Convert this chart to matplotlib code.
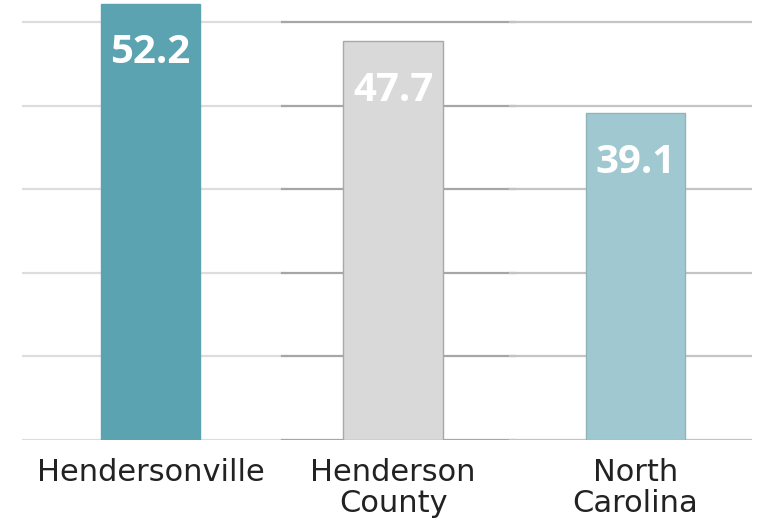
import matplotlib
matplotlib.use("Agg")
import matplotlib.pyplot as plt

categories = ["Hendersonville", "Henderson\nCounty", "North\nCarolina"]
values = [52.2, 47.7, 39.1]
value_labels = ["52.2", "47.7", "39.1"]
gridvals = [0, 10, 20, 30, 40, 50]

colors = ["#5ba3b0", "#d9d9d9", "#9fc8d0"]
edges = ["#5ba3b0", "#a8a8a8", "#8fb4bb"]

fig = plt.figure(figsize=(7.6, 5.22), dpi=100)
ax = fig.add_axes([22/760, (522-440)/522, 730/760, 440/522])

x = list(range(len(categories)))
ax.bar(x, values, width=0.41, color=colors, edgecolor=edges, linewidth=1.0, zorder=3)

seg = [(0.0, 0.362, "#dddddd"), (0.356, 0.675, "#a6a6a6"), (0.668, 1.0, "#c4c4c4")]
for g in gridvals:
    for a, b, c in seg:
        ax.axhline(g, xmin=a, xmax=b, color=c, lw=1.6, zorder=1)

for xi, v, t in zip(x, values, value_labels):
    ax.text(xi, v - 5.9, t, ha="center", va="center", color="white",
            fontsize=29, fontweight="bold", family=["Open Sans", "DejaVu Sans"], zorder=4)

ax.set_xlim(-0.53, 2.48)
ax.set_ylim(0, 52.63)
ax.set_xticks(x)
ax.set_xticklabels(categories, fontsize=22, color="#222222", linespacing=1.1)
ax.tick_params(axis="x", length=0, pad=13)
ax.set_yticks([])
for s in ax.spines.values():
    s.set_visible(False)

fig.savefig("out.png", dpi=100)
